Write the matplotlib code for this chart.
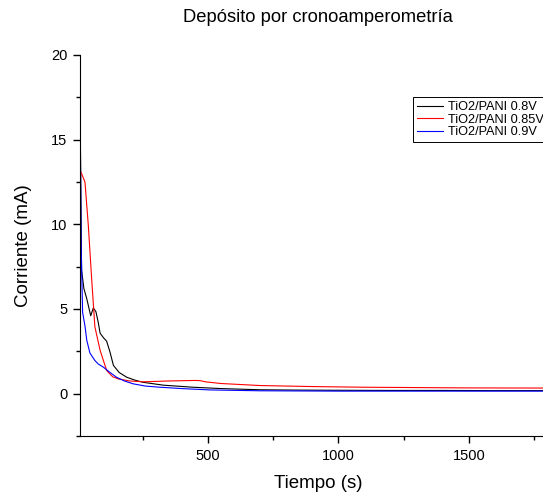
import matplotlib
matplotlib.use("Agg")
import matplotlib.pyplot as plt
from matplotlib.ticker import MultipleLocator
from matplotlib.font_manager import FontProperties

plt.rcParams['font.family'] = ['Liberation Sans', 'DejaVu Sans']

title = "Depósito por cronoamperometría"
xlabel = "Tiempo (s)"
ylabel = "Corriente (mA)"
labels = ["TiO2/PANI 0.8V", "TiO2/PANI 0.85V", "TiO2/PANI 0.9V"]
colors = ["#000000", "#ff0000", "#0000ff"]

black_t = [10, 16, 25, 36, 45, 51, 61, 71, 80, 87, 100, 112, 125, 138, 160, 189, 220, 252,
           330, 443, 550, 700, 850, 1000, 1200, 1400, 1600, 1830]
black_i = [17.5, 7.3, 6.2, 5.6, 5.0, 4.6, 5.06, 4.84, 4.2, 3.57, 3.3, 3.1, 2.45, 1.67, 1.25, 0.97,
           0.8, 0.67, 0.5, 0.38, 0.3, 0.23, 0.21, 0.2, 0.19, 0.19, 0.18, 0.18]

red_t = [10, 16, 29, 42, 55, 67, 87, 112, 135, 157, 200, 252, 350, 450, 470, 490, 550,
         700, 900, 1100, 1300, 1500, 1830]
red_i = [13.2, 13.0, 12.5, 9.9, 6.7, 3.95, 2.56, 1.37, 1.0, 0.87, 0.75, 0.7, 0.75, 0.78,
         0.77, 0.7, 0.6, 0.48, 0.42, 0.38, 0.36, 0.34, 0.33]

blue_t = [10, 14, 20, 29, 36, 48, 67, 80, 99, 125, 150, 180, 214, 260, 316, 400, 508,
          700, 1000, 1400, 1830]
blue_i = [18.0, 9.0, 4.8, 4.0, 3.15, 2.4, 1.96, 1.75, 1.57, 1.25, 0.97, 0.75, 0.58, 0.45,
          0.38, 0.3, 0.22, 0.17, 0.15, 0.15, 0.15]

series = [(black_t, black_i), (red_t, red_i), (blue_t, blue_i)]

fig = plt.figure(figsize=(5.43, 4.94), dpi=100)
ax = fig.add_axes([80 / 543, (494 - 436) / 494, (556 - 80) / 543, (436 - 55) / 494])

handles = []
for (t, i), c, lab in zip(series, colors, labels):
    h, = ax.plot(t, i, color=c, lw=0.8, label=lab)
    handles.append(h)

ax.set_xlim(10, 1833)
ax.set_ylim(-2.5, 20)
ax.xaxis.set_major_locator(MultipleLocator(500))
ax.xaxis.set_minor_locator(MultipleLocator(250))
ax.yaxis.set_major_locator(MultipleLocator(5))
ax.yaxis.set_minor_locator(MultipleLocator(2.5))
ax.spines['top'].set_visible(False)
ax.spines['right'].set_visible(False)
ax.tick_params(which='major', direction='out', length=5, width=1, labelsize=10.5, pad=4)
ax.tick_params(which='minor', direction='out', length=3, width=1)
ax.set_xticks([500, 1000, 1500])
ax.set_yticks([0, 5, 10, 15, 20])

ax.set_xlabel(xlabel, fontsize=13.5, labelpad=9)
ax.set_ylabel(ylabel, fontsize=13.5, labelpad=14)
fig.text(318 / 543, 1 - 18 / 494, title, ha='center', va='center', fontsize=13.2)

leg_font = FontProperties(family=['Liberation Sans'], size=9.2)
leg = fig.legend(handles=handles, loc='upper left',
                 bbox_to_anchor=(413 / 543, 1 - 97 / 494), prop=leg_font,
                 frameon=True, fancybox=False, framealpha=1, edgecolor='black',
                 handlelength=2.0, handletextpad=0.45, labelspacing=0.05,
                 borderpad=0.32, borderaxespad=0)
leg.get_frame().set_linewidth(0.7)

fig.savefig("out.png", dpi=100)
